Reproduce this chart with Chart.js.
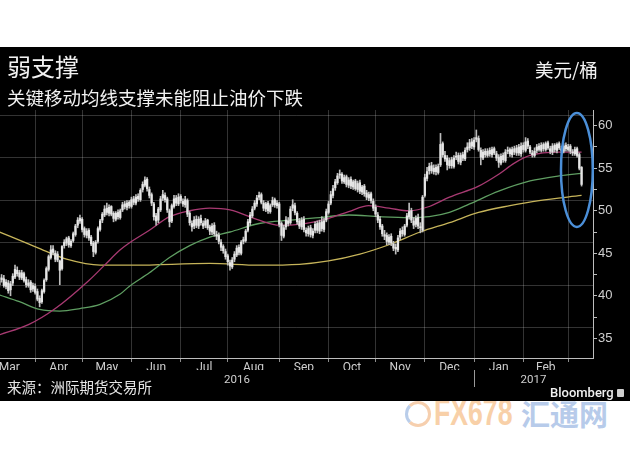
<!DOCTYPE html>
<html>
<head>
<meta charset="utf-8">
<script src="https://cdn.jsdelivr.net/npm/chart.js@4.4.1/dist/chart.umd.min.js"></script>
<style>
  body { margin: 0; background: #fff; }
  #wrap { position: relative; width: 630px; height: 450px; overflow: hidden; }
  #panel { position: absolute; left: 0; top: 47px; width: 630px; height: 354px; background: #000; }
  #oilChart { position: absolute; left: 0; top: 0; }
  .txt { position: absolute; color: #f2f2f2; font-family: 'Noto Sans CJK SC', sans-serif; white-space: nowrap; }
  #title { left: 7px; top: 52px; font-size: 24px; line-height: 28px; }
  #subtitle { left: 7px; top: 86px; font-size: 18.5px; line-height: 22px; }
  #unit { left: 535px; top: 58px; font-size: 18.5px; line-height: 22px; }
  #source { left: 7px; top: 377px; font-size: 14.5px; line-height: 20px; color: #e6e6e6; }
  #brand { left: 550px; top: 385px; font: 500 13px Roboto, sans-serif; line-height: 16px; color: #f0f0f0; }
  #brandIcon { position: absolute; left: 617px; top: 389px; width: 7px; height: 8px; background: #cfcfcf; border-radius: 1px; }
  .wm { position: absolute; top: 396px; white-space: nowrap; }
  #wmLogo { left: 405px; top: 401px; width: 20px; height: 20px; border: 3px solid #f6cfae; border-left-color: #b9cdea; border-radius: 50%; }
  #wm1 { left: 434px; font: bold 36px 'Liberation Sans', Arial, sans-serif; line-height: 34px; color: #f8d0a8;
         transform: scaleX(0.74); transform-origin: left top; }
  #wm2 { left: 521px; font: bold 29px 'Noto Sans CJK SC', sans-serif; line-height: 34px; color: #b7cbea; }
</style>
</head>
<body>
<div id="wrap">
  <div class="wm" id="wmLogo"></div>
  <div class="wm" id="wm1">FX678</div>
  <div class="wm" id="wm2">汇通网</div>
  <div id="panel"></div>
  <canvas id="oilChart" width="630" height="450"></canvas>
  <div class="txt" id="title">弱支撑</div>
  <div class="txt" id="subtitle">关键移动均线支撑未能阻止油价下跌</div>
  <div class="txt" id="unit">美元/桶</div>
  <div class="txt" id="source">来源：洲际期货交易所</div>
  <div class="txt" id="brand">Bloomberg</div>
  <div id="brandIcon"></div>
</div>
<script>
// x = trading-day index, 0 = 10 Mar 2016 ... 260 = 9 Mar 2017
const monthNames = ['Mar', 'Apr', 'May', 'Jun', 'Jul', 'Aug', 'Sep', 'Oct', 'Nov', 'Dec', 'Jan', 'Feb'];
const monthStarts = [-7, 16, 37, 59, 81, 102, 125, 147, 168, 190, 212, 234, 254];
const yearNames = ['2016', '2017'];
const yearBreak = 212;
const priceTicks = [35, 37.5, 40, 42.5, 45, 47.5, 50, 52.5, 55, 57.5, 60];
const gridLevels = [36.25, 41.25, 46.25, 51.25, 56.25, 61.25];

const opens = [
  41.3, 41.9, 42.0, 41.1, 41.5, 40.7, 41.5, 42.2, 43.0, 42.7,
  42.1, 42.6, 41.9, 41.2, 41.6, 40.8, 41.1, 40.5, 39.7, 39.3,
  40.5, 41.9, 43.1, 44.5, 45.5, 45.0, 44.2, 44.1, 43.2, 45.9,
  46.2, 46.8, 45.9, 46.5, 47.2, 48.3, 48.8, 49.0, 47.9, 47.1,
  47.7, 46.9, 46.2, 45.1, 46.4, 47.8, 48.9, 49.5, 50.3, 49.7,
  50.5, 49.7, 49.0, 49.8, 49.2, 50.1, 50.8, 50.4, 51.0, 50.5,
  51.4, 50.9, 51.7, 51.3, 52.5, 53.0, 53.7, 52.5, 51.9, 50.8,
  49.4, 48.9, 50.1, 51.5, 51.8, 51.4, 50.0, 48.8, 50.5, 51.5,
  50.8, 51.7, 51.1, 50.7, 51.2, 49.7, 48.5, 48.2, 49.0, 48.2,
  49.1, 48.5, 48.3, 48.9, 48.1, 47.5, 48.3, 47.2, 47.1, 46.3,
  45.8, 45.2, 44.7, 43.9, 43.4, 44.3, 44.8, 45.7, 45.0, 46.4,
  46.5, 47.7, 48.6, 49.4, 50.3, 50.8, 51.6, 51.9, 50.9, 50.2,
  50.9, 49.9, 50.7, 51.3, 50.6, 50.8, 48.5, 47.0, 48.1, 48.8,
  48.6, 50.3, 50.6, 49.7, 48.8, 48.1, 49.0, 47.7, 47.3, 48.0,
  47.1, 47.7, 48.5, 47.6, 48.7, 47.8, 48.9, 49.8, 50.9, 51.8,
  52.7, 53.3, 54.2, 54.3, 53.4, 54.0, 53.0, 53.7, 52.8, 53.5,
  52.5, 53.3, 52.2, 52.9, 52.1, 51.5, 52.0, 51.1, 50.4, 49.5,
  49.0, 48.2, 47.2, 47.1, 46.3, 47.0, 46.1, 45.7, 45.4, 46.9,
  47.7, 47.2, 48.3, 49.3, 50.0, 48.8, 48.4, 49.2, 48.1, 47.7,
  51.8, 53.8, 54.7, 55.3, 54.6, 55.1, 54.5, 55.4, 57.9, 56.5,
  56.2, 55.3, 56.0, 55.2, 56.3, 56.5, 55.7, 56.6, 56.1, 57.2,
  57.4, 58.1, 57.5, 58.4, 58.5, 57.1, 56.2, 57.0, 56.5, 57.1,
  56.6, 57.3, 56.7, 56.3, 55.6, 56.5, 55.9, 57.0, 57.2, 56.6,
  57.3, 56.8, 57.5, 56.7, 57.7, 57.1, 58.2, 57.5, 56.8, 56.5,
  57.1, 57.6, 57.1, 57.8, 57.2, 58.0, 57.3, 56.9, 57.7, 57.1,
  57.9, 57.3, 57.0, 57.7, 57.2, 57.6, 56.9, 56.7, 57.3, 56.6,
  55.1
];
const highs = [
  42.2, 42.5, 42.4, 41.9, 41.8, 41.7, 42.6, 43.6, 43.4, 43.0,
  43.0, 42.8, 42.2, 41.9, 41.8, 41.5, 41.4, 40.8, 40.0, 40.8,
  42.0, 43.4, 44.8, 45.9, 45.9, 45.3, 45.2, 44.2, 45.9, 46.6,
  46.9, 47.0, 46.6, 47.5, 48.4, 49.2, 49.5, 49.2, 48.1, 47.9,
  47.9, 47.1, 46.4, 46.5, 48.1, 49.0, 49.8, 50.6, 50.9, 50.7,
  50.6, 49.9, 49.9, 50.1, 50.2, 51.0, 51.1, 51.2, 51.2, 51.6,
  51.7, 51.9, 52.0, 52.6, 53.4, 54.0, 53.9, 52.8, 52.1, 51.0,
  49.7, 50.4, 51.7, 52.4, 52.1, 51.6, 50.2, 50.8, 51.8, 51.8,
  52.0, 51.9, 51.4, 51.7, 51.4, 49.9, 48.8, 49.3, 49.4, 49.3,
  49.5, 48.8, 49.1, 49.0, 48.3, 48.5, 48.6, 47.6, 47.4, 46.6,
  46.0, 45.5, 44.9, 44.2, 44.5, 45.2, 45.9, 46.0, 46.5, 46.9,
  47.8, 49.0, 49.8, 50.5, 51.2, 51.8, 52.2, 52.1, 51.2, 51.0,
  51.1, 50.8, 51.6, 51.5, 51.2, 51.0, 48.7, 48.3, 49.3, 49.2,
  50.5, 51.3, 50.9, 49.9, 49.1, 49.2, 49.3, 48.0, 48.2, 48.3,
  47.9, 48.7, 48.8, 48.9, 49.3, 49.1, 50.2, 51.1, 52.3, 53.0,
  53.7, 54.4, 54.8, 54.5, 54.2, 54.2, 53.9, 54.0, 53.6, 53.7,
  53.5, 53.6, 53.0, 53.1, 52.4, 52.2, 52.2, 51.4, 50.7, 49.8,
  49.3, 48.4, 47.7, 47.4, 47.2, 47.3, 46.4, 46.1, 47.1, 47.9,
  48.1, 48.4, 49.7, 50.9, 50.3, 49.2, 49.4, 49.6, 48.6, 51.8,
  54.3, 55.1, 55.6, 55.7, 55.4, 55.4, 55.5, 59.1, 58.1, 57.0,
  56.5, 56.2, 56.3, 56.5, 56.9, 56.8, 56.8, 56.9, 57.4, 58.0,
  58.4, 58.5, 58.6, 59.5, 58.8, 57.4, 57.2, 57.3, 57.3, 57.4,
  57.5, 57.5, 57.0, 56.6, 56.7, 56.8, 57.2, 57.5, 57.4, 57.5,
  57.6, 57.7, 57.8, 58.0, 58.0, 58.6, 58.5, 57.7, 57.1, 57.4,
  57.8, 57.9, 58.0, 58.0, 58.1, 58.2, 57.6, 57.9, 57.9, 58.0,
  58.1, 57.6, 57.9, 58.0, 57.8, 57.8, 57.2, 57.5, 57.5, 56.8,
  55.2
];
const lows = [
  41.0, 41.6, 41.0, 40.8, 40.3, 40.0, 41.2, 42.0, 42.3, 41.9,
  41.9, 41.6, 41.0, 41.0, 40.4, 40.5, 40.2, 39.4, 38.7, 39.1,
  40.3, 41.7, 42.9, 44.3, 44.8, 44.0, 44.0, 41.3, 43.0, 45.6,
  45.9, 45.7, 45.7, 46.3, 47.0, 48.0, 48.5, 47.5, 46.9, 46.8,
  46.5, 45.9, 44.6, 44.9, 46.2, 47.6, 48.6, 49.3, 49.5, 49.4,
  49.4, 48.7, 48.8, 49.0, 49.0, 49.9, 50.2, 50.1, 50.3, 50.3,
  50.7, 50.7, 51.1, 51.1, 52.2, 52.8, 52.3, 51.5, 50.6, 48.9,
  48.3, 48.6, 49.9, 51.2, 51.0, 49.8, 48.1, 48.6, 50.3, 50.6,
  50.6, 50.9, 50.5, 50.4, 49.3, 48.3, 47.6, 47.9, 48.0, 47.9,
  48.3, 47.9, 48.0, 47.8, 47.2, 47.2, 47.0, 46.6, 46.1, 45.3,
  45.0, 44.3, 43.6, 43.0, 43.2, 44.0, 44.6, 44.8, 44.8, 46.1,
  46.3, 47.5, 48.3, 49.2, 50.1, 50.5, 51.3, 50.8, 50.0, 49.9,
  49.7, 49.7, 50.5, 50.4, 50.3, 48.1, 46.5, 46.8, 47.8, 48.2,
  48.4, 50.0, 49.5, 48.4, 47.9, 47.8, 47.5, 47.0, 47.0, 46.9,
  46.8, 47.4, 47.4, 47.3, 47.6, 47.5, 48.7, 49.6, 50.7, 51.5,
  52.4, 53.1, 53.8, 53.2, 53.2, 52.8, 52.7, 52.6, 52.5, 52.4,
  52.2, 52.0, 51.9, 51.7, 51.3, 51.2, 50.9, 50.0, 49.3, 48.6,
  47.8, 47.0, 46.6, 46.0, 46.0, 45.9, 45.3, 44.9, 45.2, 46.6,
  47.0, 47.0, 48.1, 49.0, 48.6, 47.9, 48.1, 47.9, 47.4, 47.5,
  51.6, 53.5, 54.3, 54.4, 54.3, 54.2, 54.3, 55.2, 56.3, 55.8,
  54.8, 55.0, 55.0, 55.0, 56.0, 55.5, 55.4, 55.9, 55.9, 56.9,
  57.1, 57.3, 57.2, 58.1, 57.0, 55.4, 56.0, 56.3, 56.3, 56.4,
  56.3, 56.6, 55.9, 55.1, 55.4, 55.7, 55.7, 56.7, 56.4, 56.3,
  56.6, 56.5, 56.5, 56.4, 56.9, 56.9, 57.3, 56.7, 56.3, 56.3,
  56.8, 57.0, 56.9, 57.0, 57.0, 57.2, 56.7, 56.6, 56.9, 56.8,
  57.2, 56.8, 56.8, 57.0, 57.0, 56.7, 56.5, 56.5, 56.3, 54.8,
  52.9
];
const closes = [
  41.8, 42.1, 41.2, 41.6, 40.6, 41.4, 42.3, 43.1, 42.6, 42.2,
  42.7, 41.8, 41.3, 41.5, 40.7, 41.2, 40.4, 39.6, 39.2, 40.6,
  41.8, 43.2, 44.6, 45.4, 45.1, 44.3, 44.9, 43.0, 45.8, 46.3,
  46.7, 46.0, 46.4, 47.3, 48.2, 48.9, 49.1, 47.8, 47.2, 47.6,
  46.8, 46.1, 45.2, 46.3, 47.9, 48.8, 49.6, 50.2, 49.8, 50.4,
  49.6, 49.1, 49.7, 49.3, 50.0, 50.7, 50.5, 50.9, 50.6, 51.3,
  51.0, 51.6, 51.4, 52.4, 53.1, 53.6, 52.6, 51.8, 50.9, 49.3,
  48.8, 50.2, 51.4, 51.9, 51.3, 50.1, 48.7, 50.6, 51.4, 50.9,
  51.6, 51.2, 50.8, 51.3, 49.6, 48.6, 48.1, 48.9, 48.3, 49.0,
  48.6, 48.2, 48.8, 48.0, 47.6, 48.2, 47.3, 47.0, 46.4, 45.7,
  45.3, 44.6, 44.0, 43.5, 44.2, 44.9, 45.6, 45.1, 46.3, 46.6,
  47.6, 48.7, 49.5, 50.2, 50.9, 51.5, 51.8, 51.0, 50.3, 50.8,
  50.0, 50.6, 51.2, 50.7, 50.9, 48.4, 47.1, 48.0, 48.9, 48.5,
  50.2, 50.7, 49.8, 48.7, 48.2, 48.9, 47.8, 47.4, 47.9, 47.2,
  47.6, 48.4, 47.7, 48.6, 47.9, 48.8, 49.9, 50.8, 51.9, 52.6,
  53.4, 54.1, 54.2, 53.5, 53.9, 53.1, 53.6, 52.9, 53.4, 52.6,
  53.2, 52.3, 52.8, 52.0, 51.6, 51.9, 51.2, 50.3, 49.6, 48.9,
  48.1, 47.3, 47.0, 46.4, 46.9, 46.2, 45.6, 45.5, 46.8, 47.6,
  47.3, 48.2, 49.4, 49.9, 48.9, 48.3, 49.1, 48.2, 48.0, 51.6,
  53.9, 54.6, 55.2, 54.7, 55.0, 54.6, 55.2, 57.8, 56.6, 56.1,
  55.4, 55.9, 55.3, 56.2, 56.4, 55.8, 56.5, 56.2, 57.1, 57.5,
  58.0, 57.6, 58.3, 58.6, 57.2, 56.3, 56.9, 56.6, 57.0, 56.7,
  57.2, 56.8, 56.2, 55.7, 56.4, 56.0, 56.9, 57.1, 56.7, 57.2,
  56.9, 57.4, 56.8, 57.6, 57.2, 58.1, 57.6, 56.9, 56.6, 57.0,
  57.5, 57.2, 57.7, 57.3, 57.9, 57.4, 57.0, 57.6, 57.2, 57.8,
  57.4, 57.1, 57.6, 57.3, 57.5, 57.0, 56.8, 57.2, 56.5, 55.0,
  53.1
];

// moving averages: [trading-day index, price]
const ma50 = [
  [0, 35.4], [13, 36.6], [25, 38.5], [40, 41.8], [47, 43.6], [54, 45.4], [58, 46.2],
  [67, 47.7], [76, 49.3], [85, 50.0], [94, 50.3], [103, 50.1], [116, 48.9], [125, 48.3],
  [134, 48.4], [147, 49.1], [156, 49.9], [165, 50.6], [174, 50.3], [183, 50.0], [192, 50.5],
  [201, 51.6], [214, 52.9], [223, 54.3], [230, 55.6], [237, 56.5], [250, 56.9], [260, 56.9]
];
const ma100 = [
  [0, 40.1], [9, 39.3], [18, 38.4], [27, 38.2], [36, 38.5], [45, 39.0], [54, 40.2],
  [58, 41.1], [67, 42.7], [76, 44.5], [85, 45.9], [94, 46.9], [103, 47.5], [116, 48.5],
  [130, 48.9], [143, 49.2], [156, 49.5], [170, 49.3], [183, 49.2], [192, 49.3], [201, 49.8],
  [210, 50.8], [223, 52.3], [237, 53.5], [250, 54.1], [260, 54.4]
];
const ma200 = [
  [0, 47.5], [13, 46.1], [22, 45.1], [30, 44.3], [45, 43.6], [60, 43.6], [94, 43.8],
  [116, 43.6], [134, 43.7], [147, 44.1], [161, 44.9], [174, 46.0], [188, 47.5], [201, 48.6],
  [214, 49.8], [228, 50.6], [241, 51.2], [260, 51.8]
];

const X_MIN = 0.3, X_MAX = 265.1;
const Y_MIN = 32.68, Y_MAX = 61.85;
const ring = { day: 257.9, price: 54.8, daySpan: 7.1, priceSpan: 6.7 };

const GRID = 'rgba(255,255,255,0.2)';
const AXIS = '#bdbdbd';
const LABEL = '#cfcfcf';
const AXIS_FONT = "Roboto, 'Liberation Sans', sans-serif";
const NONE = 'rgba(0,0,0,0)';

const monthMids = monthNames.map((name, k) => ({ value: (monthStarts[k] + monthStarts[k + 1]) / 2, name }));

const ringPlugin = {
  id: 'ring',
  afterDatasetsDraw(chart) {
    const { ctx, scales: { x, y } } = chart;
    const cx = x.getPixelForValue(ring.day);
    const cy = y.getPixelForValue(ring.price);
    const rx = Math.abs(x.getPixelForValue(ring.day + ring.daySpan) - cx);
    const ry = Math.abs(y.getPixelForValue(ring.price + ring.priceSpan) - cy);
    ctx.save();
    ctx.strokeStyle = '#4b8fd8';
    ctx.lineWidth = 2.5;
    ctx.beginPath();
    ctx.ellipse(cx, cy, rx, ry, 0, 0, Math.PI * 2);
    ctx.stroke();
    ctx.restore();
  }
};

const maLine = (pts, color) => ({
  type: 'line',
  data: pts.map(p => ({ x: p[0], y: p[1] })),
  borderColor: color,
  borderWidth: 1.3,
  pointRadius: 0,
  cubicInterpolationMode: 'monotone',
  order: 3
});

new Chart(document.getElementById('oilChart'), {
  type: 'bar',
  data: {
    datasets: [
      {
        data: closes.map((c, i) => ({ x: i, y: [opens[i], c] })),
        backgroundColor: '#e6e6e6',
        barThickness: 1.6,
        minBarLength: 1,
        grouped: false,
        order: 0
      },
      {
        data: closes.map((c, i) => ({ x: i, y: [lows[i], highs[i]] })),
        backgroundColor: '#bcbcbc',
        barThickness: 1,
        grouped: false,
        order: 1
      },
      maLine(ma50, '#a83a72'),
      maLine(ma100, '#5f9e62'),
      maLine(ma200, '#c6b45a')
    ]
  },
  options: {
    responsive: false,
    animation: false,
    layout: { padding: { top: 110, bottom: 60, left: 0, right: 0 } },
    plugins: {
      legend: { display: false },
      tooltip: { enabled: false }
    },
    scales: {
      x: {
        type: 'linear',
        position: 'bottom',
        weight: 0,
        min: X_MIN,
        max: X_MAX,
        offset: false,
        afterBuildTicks: s => {
          const t = monthStarts.filter(v => v >= X_MIN).concat(monthMids.map(m => m.value));
          s.ticks = t.sort((a, b) => a - b).map(v => ({ value: v }));
        },
        ticks: {
          autoSkip: false,
          maxRotation: 0,
          padding: -1,
          color: LABEL,
          font: { family: AXIS_FONT, size: 12 },
          callback: v => {
            const m = monthMids.find(mm => mm.value === v);
            return m ? m.name : '';
          }
        },
        grid: {
          offset: false,
          tickLength: 4,
          color: c => (c.tick && monthStarts.includes(c.tick.value)) ? GRID : NONE,
          tickColor: c => (c.tick && monthStarts.includes(c.tick.value)) ? '#8c8c8c' : NONE
        },
        border: { color: AXIS },
        afterFit: s => { s.height = 12; s.paddingLeft = 0; s.paddingRight = 0; }
      },
      x2: {
        type: 'linear',
        position: 'bottom',
        weight: 1,
        min: X_MIN,
        max: X_MAX,
        offset: false,
        afterBuildTicks: s => {
          s.ticks = [(X_MIN + yearBreak) / 2, yearBreak, (yearBreak + X_MAX) / 2].map(v => ({ value: v }));
        },
        ticks: {
          autoSkip: false,
          maxRotation: 0,
          padding: -14,
          color: LABEL,
          font: { family: AXIS_FONT, size: 11.5 },
          callback: (v, i) => i === 0 ? yearNames[0] : (i === 2 ? yearNames[1] : '')
        },
        grid: {
          offset: false,
          drawOnChartArea: false,
          tickLength: 17,
          tickColor: c => (c.tick && c.tick.value === yearBreak) ? '#9a9a9a' : NONE
        },
        border: { display: false },
        afterFit: s => { s.height = 20; s.paddingLeft = 0; s.paddingRight = 0; }
      },
      y: {
        type: 'linear',
        position: 'right',
        min: Y_MIN,
        max: Y_MAX,
        beginAtZero: false,
        afterBuildTicks: s => { s.ticks = priceTicks.map(v => ({ value: v })); },
        ticks: {
          padding: 1,
          color: LABEL,
          font: { family: "'Liberation Sans', Arial, sans-serif", size: 13 },
          callback: v => (v % 5 === 0 ? v : '')
        },
        grid: { drawOnChartArea: false, tickLength: 4, tickColor: AXIS },
        border: { color: AXIS },
        afterFit: s => { s.width = 37; s.paddingTop = 0; s.paddingBottom = 0; }
      },
      yg: {
        type: 'linear',
        position: 'right',
        min: Y_MIN,
        max: Y_MAX,
        afterBuildTicks: s => { s.ticks = gridLevels.map(v => ({ value: v })); },
        ticks: { display: false },
        grid: { color: GRID, drawTicks: false },
        border: { display: false },
        afterFit: s => { s.width = 0; s.paddingTop = 0; s.paddingBottom = 0; }
      }
    }
  },
  plugins: [ringPlugin]
});
</script>
</body>
</html>
